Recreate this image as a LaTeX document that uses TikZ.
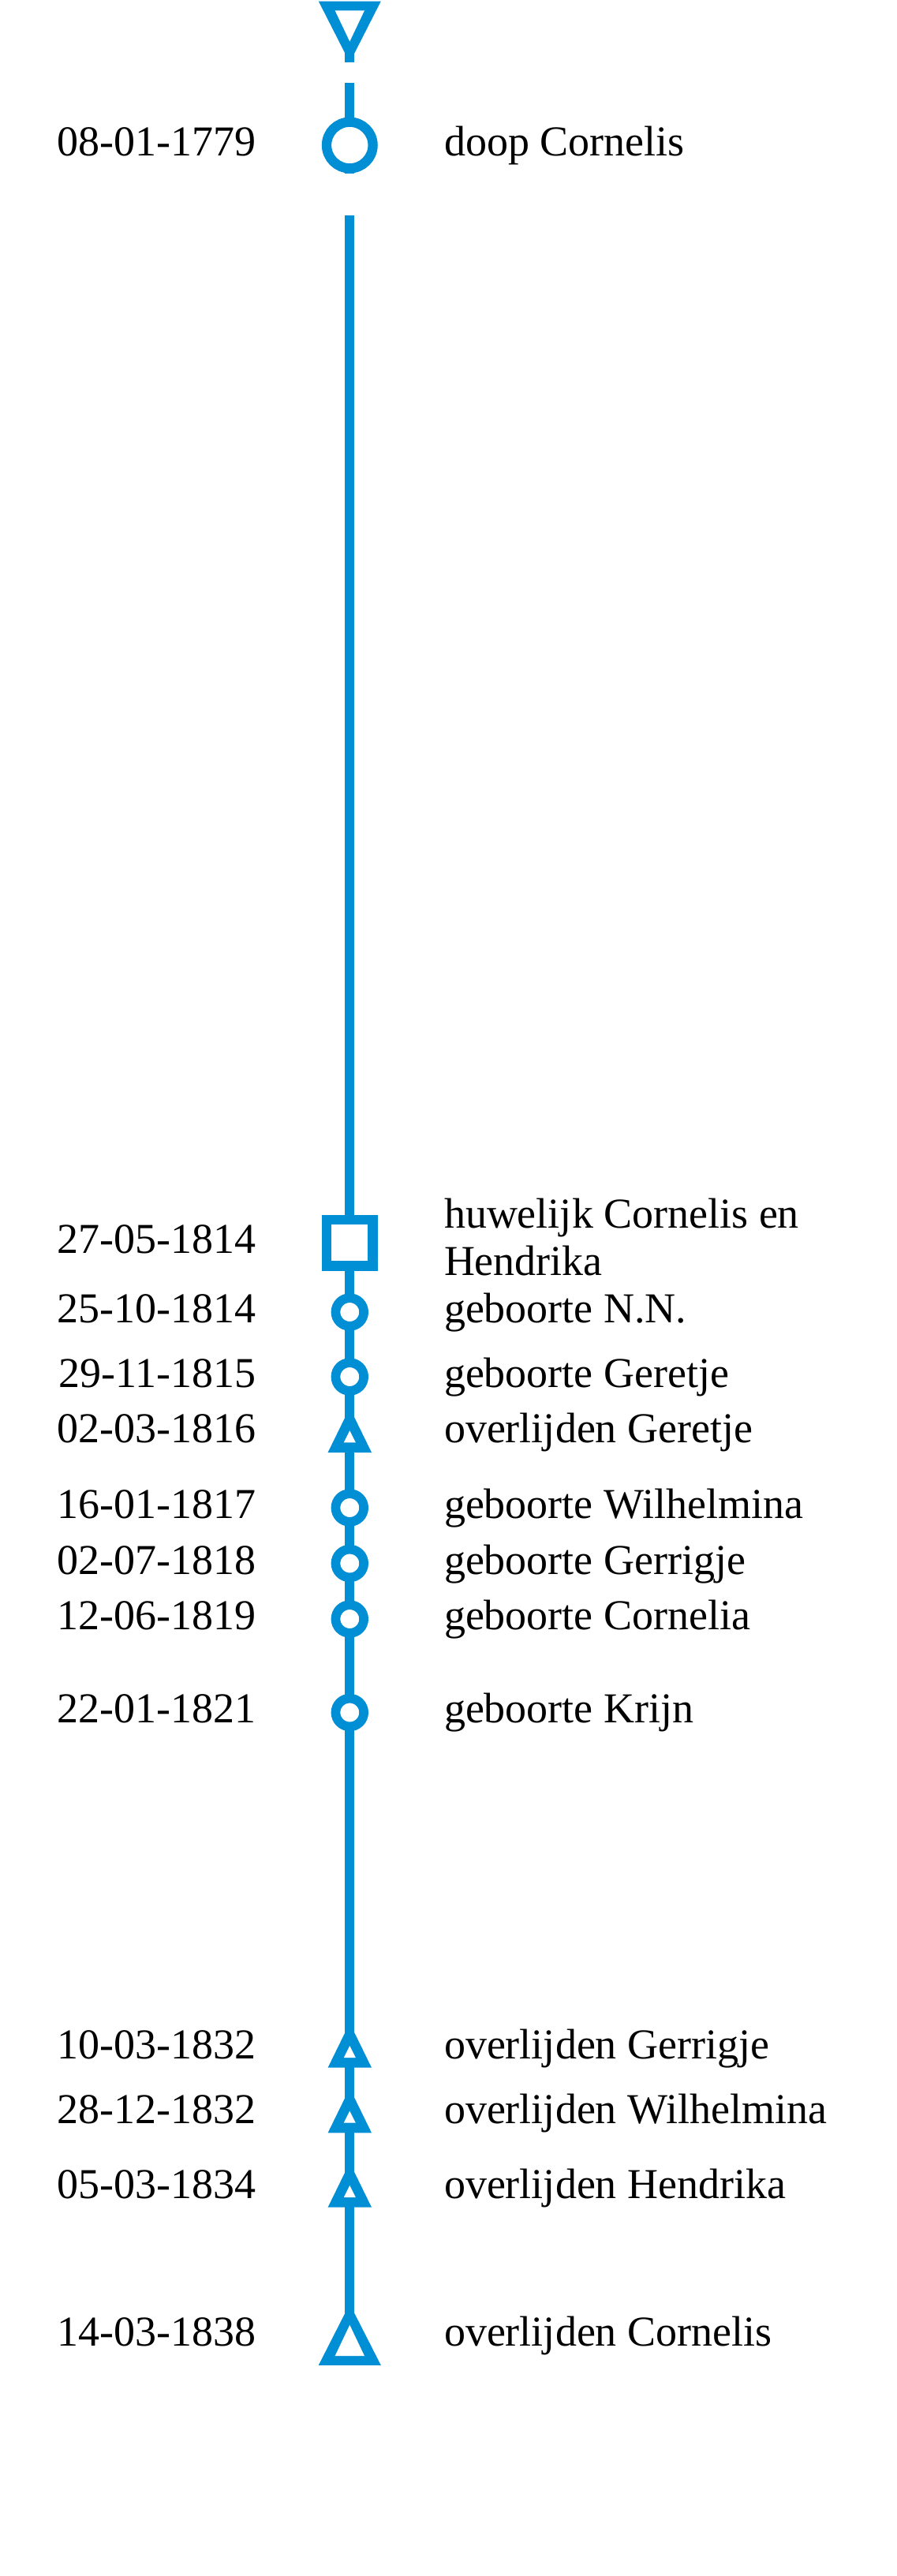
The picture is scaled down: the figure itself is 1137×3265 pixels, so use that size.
\documentclass[tikz,border=0pt]{standalone}
\usepackage{fontspec}
\setmainfont{Liberation Serif}
\usetikzlibrary{backgrounds}
\definecolor{mblue}{RGB}{0,142,212}
\newcommand\lblfont{\fontsize{54}{60}\selectfont}
\tikzset{
  bigcirc/.style={circle, draw=mblue, fill=white, line width=12.3pt, minimum size=58.6pt, inner sep=0pt, outer sep=0pt},
  smallcirc/.style={circle, draw=mblue, fill=white, line width=11.7pt, minimum size=35.7pt, inner sep=0pt, outer sep=0pt},
  sqmark/.style={rectangle, draw=mblue, fill=white, line width=12.5pt, minimum size=58.5pt, inner sep=0pt, outer sep=0pt},
  smalltrinode/.style={inner sep=0pt, outer sep=0pt, minimum width=55.4pt, minimum height=56.6pt},
  bigtrinode/.style={inner sep=0pt, outer sep=0pt, minimum width=79pt, minimum height=77.6pt},
  conn/.style={draw=mblue, line width=11.7pt},
  datelbl/.style={anchor=base east, inner sep=0pt, outer sep=0pt, font=\lblfont},
  evlbl/.style={anchor=base west, inner sep=0pt, outer sep=0pt, font=\lblfont, align=left},
  smalltri/.pic={
    \fill[mblue] (0,-28.3) -- (27.7,28.3) -- (-27.7,28.3) -- cycle;
    \fill[white] (0,0.6) -- (7.5,15.6) -- (-7.5,15.6) -- cycle;
  },
  bigtriup/.pic={
    \fill[mblue] (0,-38.8) -- (39.5,38.8) -- (-39.5,38.8) -- cycle;
    \fill[white] (0,-12.2) -- (18.7,27.1) -- (-18.7,27.1) -- cycle;
  },
  bigtridown/.pic={
    \fill[mblue] (0,38.8) -- (39.5,-38.8) -- (-39.5,-38.8) -- cycle;
    \fill[white] (0,12.2) -- (18.7,-27.1) -- (-18.7,-27.1) -- cycle;
  },
}
\begin{document}
\begin{tikzpicture}[x=1pt,y=-1pt]
\useasboundingbox (0,0) rectangle (1137,3265);

% markers
\node[bigtrinode] (t0) at (443.3,40.4) {};
\pic at (t0) {bigtridown};
\node[bigcirc] (c0) at (443.3,184) {};
\node[sqmark] (sq) at (443.3,1575) {};
\node[smallcirc] (b1) at (443.3,1663) {};
\node[smallcirc] (b2) at (443.3,1745) {};
\node[smalltrinode] (t1) at (443.3,1812.7) {};
\pic at (t1) {smalltri};
\node[smallcirc] (b3) at (443.3,1911) {};
\node[smallcirc] (b4) at (443.3,1981.5) {};
\node[smallcirc] (b5) at (443.3,2052) {};
\node[smallcirc] (b6) at (443.3,2170.5) {};
\node[smalltrinode] (t2) at (443.3,2592.4) {};
\pic at (t2) {smalltri};
\node[smalltrinode] (t3) at (443.3,2675) {};
\pic at (t3) {smalltri};
\node[smalltrinode] (t4) at (443.3,2769.4) {};
\pic at (t4) {smalltri};
\node[bigtrinode] (tb) at (443.3,2959) {};
\pic at (tb) {bigtriup};

% connectors
\begin{scope}[on background layer]
\draw[conn, dash pattern=on 38.6pt off 26pt on 300pt] (t0.center) -- (c0.center);
\draw[conn, dash pattern=on 36pt off 53pt on 3000pt] (c0.center) -- (sq.center);
\draw[conn] (sq.center) -- (b1.center) -- (b2.center) -- (t1.center) -- (b3.center)
  -- (b4.center) -- (b5.center) -- (b6.center) -- (t2.center) -- (t3.center)
  -- (t4.center) -- (tb.center);
\end{scope}

% labels
\node[datelbl] (d0) at (324,197) {08-01-1779};
\node[evlbl] (e0) at (563,197) {doop Cornelis};
\node[datelbl] (d1) at (324,1588.3) {27-05-1814};
\node[evlbl] (e1) at (563,1616.7) {huwelijk Cornelis en\\Hendrika};
\node[datelbl] (d2) at (324,1676) {25-10-1814};
\node[evlbl] (e2) at (563,1676) {geboorte N.N.};
\node[datelbl] (d3) at (324,1758) {29-11-1815};
\node[evlbl] (e3) at (563,1758) {geboorte Geretje};
\node[datelbl] (d4) at (324,1828) {02-03-1816};
\node[evlbl] (e4) at (563,1828) {overlijden Geretje};
\node[datelbl] (d5) at (324,1924) {16-01-1817};
\node[evlbl] (e5) at (563,1924) {geboorte Wilhelmina};
\node[datelbl] (d6) at (324,1995) {02-07-1818};
\node[evlbl] (e6) at (563,1995) {geboorte Gerrigje};
\node[datelbl] (d7) at (324,2065) {12-06-1819};
\node[evlbl] (e7) at (563,2065) {geboorte Cornelia};
\node[datelbl] (d8) at (324,2183.3) {22-01-1821};
\node[evlbl] (e8) at (563,2183.3) {geboorte Krijn};
\node[datelbl] (d9) at (324,2609.3) {10-03-1832};
\node[evlbl] (e9) at (563,2609.3) {overlijden Gerrigje};
\node[datelbl] (d10) at (324,2691.7) {28-12-1832};
\node[evlbl] (e10) at (563,2691.7) {overlijden Wilhelmina};
\node[datelbl] (d11) at (324,2786.7) {05-03-1834};
\node[evlbl] (e11) at (563,2786.7) {overlijden Hendrika};
\node[datelbl] (d12) at (324,2973.3) {14-03-1838};
\node[evlbl] (e12) at (563,2973.3) {overlijden Cornelis};
\end{tikzpicture}
\end{document}
